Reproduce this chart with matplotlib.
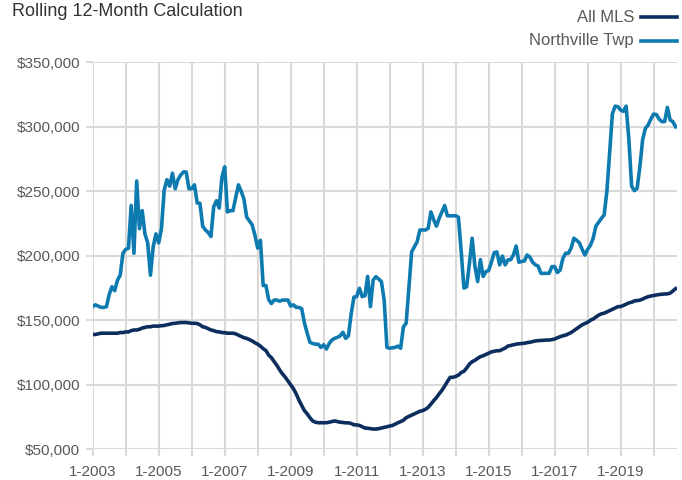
import matplotlib
matplotlib.use("Agg")
import matplotlib.pyplot as plt
from matplotlib.lines import Line2D
from matplotlib.ticker import FuncFormatter
import numpy as np

# ---- data (thousands of $), monthly Jan 2003 .. Sep 2020 ----
start_year = 2003
northville = [
    # 2003
    160.6, 162, 161, 160, 160, 160.5, 170, 176, 173, 181, 185, 202,
    # 2004
    205, 205.8, 239, 202, 258, 221, 235, 217, 210, 185, 207, 217,
    # 2005
    210, 221, 251, 259, 254, 264, 252, 259, 262.6, 265, 265, 252,
    # 2006
    252, 255, 241, 240.7, 223, 220, 218, 215, 238, 242.7, 237, 261,
    # 2007
    269, 234, 235, 235, 245, 255, 250, 244, 230, 227, 224, 216,
    # 2008
    206, 212, 177, 177, 166, 163, 165.7, 165.7, 164.8, 165.7, 165.7, 165.7,
    # 2009
    161, 162, 160, 160, 159, 148, 140, 133, 132, 131.5, 131.4, 129,
    # 2010
    131, 127.7, 132, 134.7, 136, 136.8, 138, 140.7, 136, 138, 155, 168,
    # 2011
    168.4, 174.8, 168.4, 169, 184, 160.6, 181.2, 183.8, 182, 180, 165.7, 129,
    # 2012
    128.3, 128.7, 129, 130, 128.3, 145, 147.7, 175, 203, 207, 211, 220,
    # 2013
    220, 220, 221.3, 234, 228, 223, 229, 234, 239, 231, 231, 231,
    # 2014
    231, 230, 204, 175, 176, 194, 213.6, 192, 180, 197, 184, 187.7,
    # 2015
    188.6, 195, 202.4, 203, 193, 199.8, 193, 196.8, 197, 200.6, 207.6, 195,
    # 2016
    195.6, 196, 200.6, 199, 195, 193, 192, 186.4, 186.4, 186.4, 186.4, 191.6,
    # 2017
    191.6, 187, 189, 198, 202, 202, 206, 213.6, 212, 210, 205, 200.6,
    # 2018
    205, 208, 213.6, 223, 226, 229, 231.6, 250, 280, 310, 316, 315.6,
    # 2019
    313, 312, 316, 290, 254, 250.5, 252.3, 269, 290, 298.8, 301.4, 306,
    # 2020
    309.9, 309.5, 306, 304, 304, 315, 305.3, 304, 300,
]
all_mls = [
    # 2003
    139, 139, 139.5, 140, 140, 140, 140, 140, 140, 140, 140.5, 140.5,
    # 2004
    141, 141, 142, 142.5, 142.5, 143, 144, 144.5, 145, 145, 145.5, 145.5,
    # 2005
    145.5, 145.8, 146, 146.5, 147, 147.5, 147.7, 148, 148.3, 148.3, 148.3, 148,
    # 2006
    147.7, 147.7, 147.5, 146.5, 145, 144.5, 143.5, 142.5, 142, 141.2, 141, 140.5,
    # 2007
    140.4, 140, 140, 140, 139.5, 138.5, 137.5, 136.5, 136, 135, 134, 132.6,
    # 2008
    131.5, 130, 128, 126.5, 123, 121, 118, 115, 111.5, 108.5, 106, 103,
    # 2009
    100, 97, 93, 88.2, 84, 80, 77.5, 74.5, 72, 71, 70.6, 70.6,
    # 2010
    70.6, 70.6, 71, 71.5, 72, 71.5, 71, 70.8, 70.5, 70.5, 70, 69,
    # 2011
    68.9, 68.5, 67.5, 66.5, 66.3, 66, 65.7, 65.7, 66, 66.5, 67, 67.5,
    # 2012
    68, 68.5, 69.5, 70.6, 71.5, 72.5, 74.5, 75.5, 76.5, 77.5, 78.5, 79.5,
    # 2013
    80, 81, 82.5, 85, 87.7, 90, 93, 95.7, 99, 102.5, 105.8, 105.8,
    # 2014
    106.5, 107.5, 109.5, 110.5, 113, 116, 117.9, 119, 120.5, 121.8, 122.5, 123.5,
    # 2015
    124.5, 125.5, 126, 126.4, 126.4, 127.5, 128.5, 130, 130.5, 131, 131.5, 131.8,
    # 2016
    132, 132.2, 132.7, 133, 133.5, 134, 134.2, 134.4, 134.5, 134.7, 134.7, 135,
    # 2017
    135.5, 136.5, 137.3, 138, 138.5, 139.5, 140.5, 142, 143.5, 145, 146.5, 147.5,
    # 2018
    148.5, 150, 151, 152.5, 154, 155, 155.5, 156.5, 157.5, 158.5, 159.5, 160.6,
    # 2019
    160.6, 161.5, 162.5, 163.5, 164, 165, 165.3, 165.6, 166.5, 167.5, 168.3, 168.8,
    # 2020
    169.2, 169.6, 170, 170.2, 170.4, 170.5, 171, 172.8, 174.5,
]
series_names = ["All MLS", "Northville Twp"]
title = "Rolling 12-Month Calculation"
y_ticks = [50000, 100000, 150000, 200000, 250000, 300000, 350000]
x_label_years = list(range(2003, 2020, 2))
grid_years = list(range(2003, 2021))

NAVY = "#0b2e5e"
BLUE = "#0e7bb0"
GRID = "#d9d9d9"
TXT = "#595959"

FONT = ["Liberation Sans Narrow", "Liberation Sans", "DejaVu Sans"]
plt.rcParams["font.family"] = FONT

x = start_year + np.arange(len(northville)) / 12.0
x2 = start_year + np.arange(len(all_mls)) / 12.0

fig = plt.figure(figsize=(6.82, 4.80), dpi=100)
ax = fig.add_axes([92.7 / 682, 1 - 449.3 / 480, (677 - 92.7) / 682, (449.3 - 62.3) / 480])

ax.plot(x2, np.array(all_mls) * 1000, color=NAVY, lw=2.6, solid_joinstyle="round", zorder=3)
ax.plot(x, np.array(northville) * 1000, color=BLUE, lw=2.6, solid_joinstyle="round", zorder=3)

ax.set_xlim(2003, 2003 + 212.5 / 12)
ax.set_ylim(50000, 350000)
ax.set_yticks(y_ticks)
ax.yaxis.set_major_formatter(FuncFormatter(lambda v, p: "${:,.0f}".format(v)))
ax.set_xticks(grid_years)
ax.set_xticklabels([f"1-{y}" if y in x_label_years else "" for y in grid_years])

ax.grid(True, color=GRID, lw=1.5, zorder=0)
for s in ax.spines.values():
    s.set_visible(False)
ax.tick_params(axis="both", colors=GRID, length=5, width=1.5, labelcolor=TXT, labelsize=11)
ax.tick_params(axis="y", pad=4)
ax.tick_params(axis="x", pad=6)

fig.text(12 / 682, 1 - 12 / 480, title, fontsize=13, color="#333333", ha="left", va="center")

# legend (top right)
for i, (name, col) in enumerate(zip(series_names, [NAVY, BLUE])):
    yy = 1 - (17 + 24 * i) / 480
    fig.text(634 / 682, yy, name, fontsize=12, color=TXT, ha="right", va="center")
    fig.add_artist(Line2D([641 / 682, 677 / 682], [yy, yy], color=col, lw=2.6,
                          transform=fig.transFigure))

fig.savefig("out.png", dpi=100)
